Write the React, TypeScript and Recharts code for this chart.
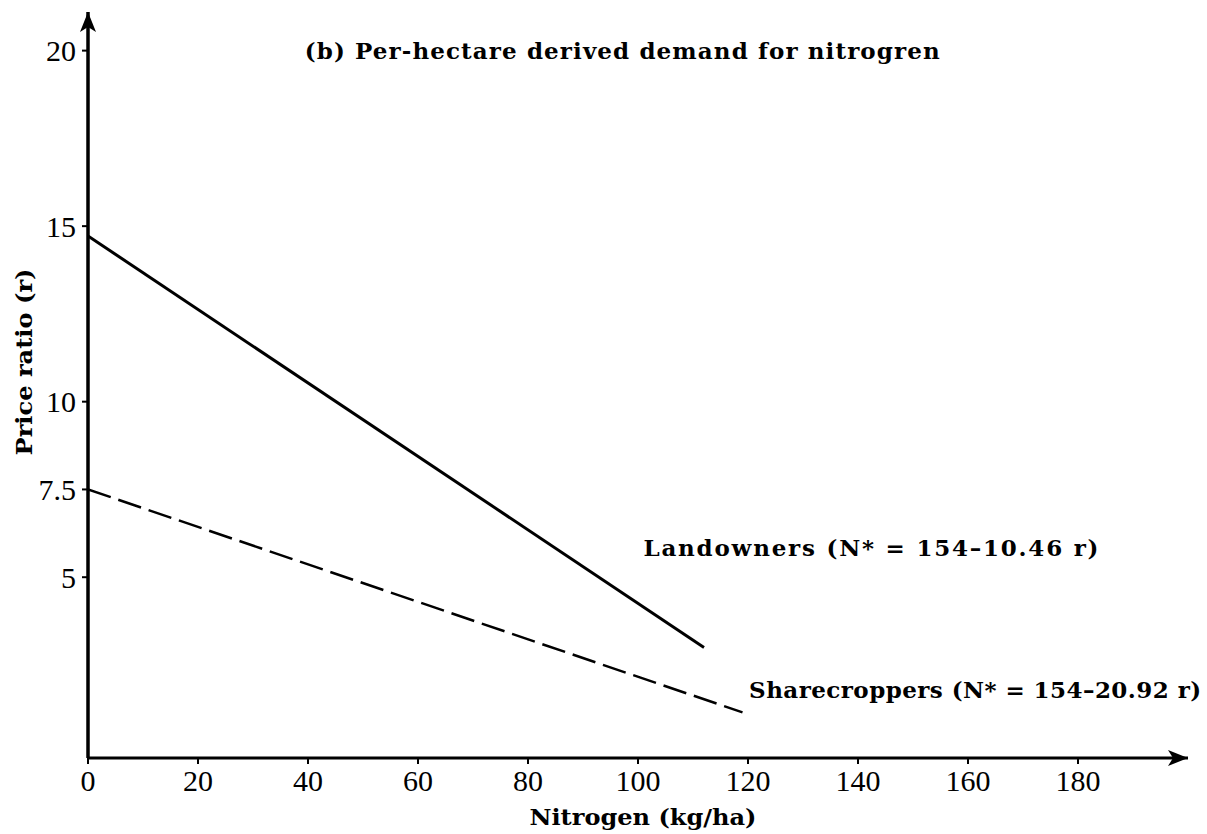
import React from "react";
import { LineChart, Line, XAxis, YAxis, ReferenceDot, Label } from "recharts";

const xTicks = [0, 20, 40, 60, 80, 100, 120, 140, 160, 180];
const yTicks = [5, 7.5, 10, 15, 20];
const landowners = [
  { n: 0, r: 14.72 },
  { n: 112, r: 3.0 },
];
const sharecroppers = [
  { n: 0, r: 7.5 },
  { n: 119, r: 1.15 },
];
const annotations = [
  { n: 39.4, r: 20, text: "(b) Per-hectare derived demand for nitrogren", len: 635 },
  { n: 101, r: 5.85, text: "Landowners (N* = 154\u201310.46 r)", len: 455 },
  { n: 120.2, r: 1.81, text: "Sharecroppers (N* = 154\u201320.92 r)", len: 452 },
];
const xTitle = "Nitrogen (kg/ha)";
const yTitle = "Price ratio (r)";

const serif = "'Liberation Serif', 'Times New Roman', serif";
const boldSerif = "'DejaVu Serif', serif";

export default function App() {
  return (
    <div style={{ position: "absolute", left: 0, top: 0, background: "#fff" }}>
      <svg width={0} height={0} style={{ position: "absolute" }}>
        <defs>
          <marker
            id="arrowHead"
            viewBox="0 0 20 16"
            refX={20}
            refY={8}
            markerWidth={20}
            markerHeight={16}
            markerUnits="userSpaceOnUse"
            orient="auto-start-reverse"
          >
            <path d="M0,0 L20,8 L0,16 L5,8 Z" fill="#000" />
          </marker>
        </defs>
      </svg>
      <LineChart
        width={1207}
        height={834}
        margin={{ top: 12, right: 19, left: 0, bottom: 0 }}
      >
        <XAxis
          type="number"
          dataKey="n"
          domain={[0, 200]}
          ticks={xTicks}
          allowDataOverflow
          height={76}
          tickSize={6}
          tickMargin={6}
          axisLine={{ stroke: "#000", strokeWidth: 3, markerEnd: "url(#arrowHead)" }}
          tickLine={{ stroke: "#000", strokeWidth: 2 }}
          tick={{ fill: "#000", fontSize: 30, fontFamily: serif }}
        >
          <Label
            content={(props: any) => {
              const vb = props.viewBox;
              return (
                <text
                  x={vb.x + vb.width / 2 + 5}
                  y={vb.y + 58}
                  textAnchor="middle"
                  dominantBaseline="central"
                  fontFamily={boldSerif}
                  fontWeight="bold"
                  fontSize={23}
                  textLength={227}
                  lengthAdjust="spacingAndGlyphs"
                  fill="#000"
                >
                  {xTitle}
                </text>
              );
            }}
          />
        </XAxis>
        <YAxis
          type="number"
          dataKey="r"
          domain={[-0.15, 21.1]}
          ticks={yTicks}
          allowDataOverflow
          width={88}
          tickSize={6}
          tickMargin={6}
          axisLine={{ stroke: "#000", strokeWidth: 3.5, markerStart: "url(#arrowHead)" }}
          tickLine={{ stroke: "#000", strokeWidth: 2 }}
          tick={{ fill: "#000", fontSize: 30, fontFamily: serif }}
        >
          <Label
            content={(props: any) => {
              const vb = props.viewBox;
              const cx = 23;
              const cy = vb.y + vb.height / 2 - 23;
              return (
                <text
                  x={cx}
                  y={cy}
                  transform={`rotate(-90, ${cx}, ${cy})`}
                  textAnchor="middle"
                  dominantBaseline="central"
                  fontFamily={boldSerif}
                  fontWeight="bold"
                  fontSize={23}
                  textLength={187}
                  lengthAdjust="spacingAndGlyphs"
                  fill="#000"
                >
                  {yTitle}
                </text>
              );
            }}
          />
        </YAxis>
        <Line
          data={landowners}
          dataKey="r"
          stroke="#000"
          strokeWidth={3}
          dot={false}
          isAnimationActive={false}
        />
        <Line
          data={sharecroppers}
          dataKey="r"
          stroke="#000"
          strokeWidth={2.5}
          strokeDasharray="24 8"
          dot={false}
          isAnimationActive={false}
        />
        {annotations.map((a) => (
          <ReferenceDot
            key={a.text}
            x={a.n}
            y={a.r}
            r={0}
            fill="none"
            stroke="none"
            ifOverflow="visible"
            label={(props: any) => {
              const vb = props.viewBox;
              return (
                <text
                  x={vb.x}
                  y={vb.y}
                  textAnchor="start"
                  dominantBaseline="central"
                  fontFamily={boldSerif}
                  fontWeight="bold"
                  fontSize={23}
                  textLength={a.len}
                  lengthAdjust="spacing"
                  fill="#000"
                >
                  {a.text}
                </text>
              );
            }}
          />
        ))}
      </LineChart>
    </div>
  );
}
